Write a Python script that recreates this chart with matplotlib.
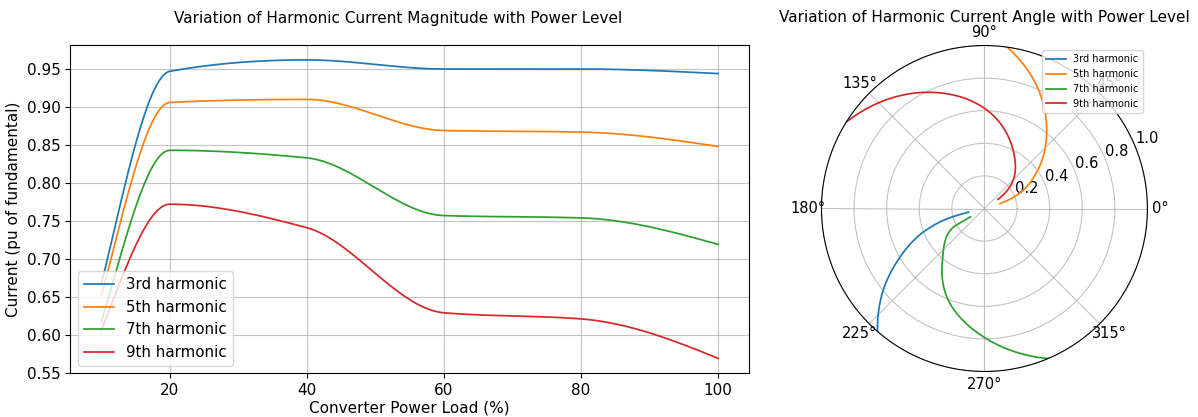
import numpy as np
import matplotlib
matplotlib.use("Agg")
import matplotlib.pyplot as plt

# ---- data ----
power = [10, 20, 40, 60, 80, 100]
labels = ["3rd harmonic", "5th harmonic", "7th harmonic", "9th harmonic"]

mag_3 = [0.666, 0.947, 0.962, 0.950, 0.950, 0.944]
mag_5 = [0.651, 0.906, 0.910, 0.869, 0.867, 0.848]
mag_7 = [0.617, 0.843, 0.833, 0.757, 0.754, 0.719]
mag_9 = [0.606, 0.772, 0.741, 0.629, 0.621, 0.569]

ang_3 = [193, 194.5, 201, 210, 219, 229]
ang_5 = [17.5, 21.5, 35.5, 50.5, 65.5, 82]
ang_7 = [211, 210.5, 230, 248, 271, 293]
ang_9 = [34, 40, 64, 88, 117, 148]

mags = [mag_3, mag_5, mag_7, mag_9]
angs = [ang_3, ang_5, ang_7, ang_9]
colors = ["#1f77b4", "#ff7f0e", "#2ca02c", "#d62728"]


def pchip(x, y, xn):
    """Monotone cubic (PCHIP) curve through the data points, for smooth drawing."""
    x = np.asarray(x, float)
    y = np.asarray(y, float)
    h = np.diff(x)
    dl = np.diff(y) / h
    n = len(x)
    d = np.zeros(n)
    for k in range(1, n - 1):
        if dl[k - 1] * dl[k] > 0:
            w1 = 2 * h[k] + h[k - 1]
            w2 = h[k] + 2 * h[k - 1]
            d[k] = (w1 + w2) / (w1 / dl[k - 1] + w2 / dl[k])

    def edge(h0, h1, m0, m1):
        v = ((2 * h0 + h1) * m0 - h0 * m1) / (h0 + h1)
        if np.sign(v) != np.sign(m0):
            v = 0.0
        elif np.sign(m0) != np.sign(m1) and abs(v) > abs(3 * m0):
            v = 3 * m0
        return v

    d[0] = edge(h[0], h[1], dl[0], dl[1])
    d[-1] = edge(h[-1], h[-2], dl[-1], dl[-2])
    xn = np.asarray(xn, float)
    idx = np.clip(np.searchsorted(x, xn) - 1, 0, n - 2)
    t = (xn - x[idx]) / h[idx]
    h00 = 2 * t**3 - 3 * t**2 + 1
    h10 = t**3 - 2 * t**2 + t
    h01 = -2 * t**3 + 3 * t**2
    h11 = t**3 - t**2
    return (h00 * y[idx] + h10 * h[idx] * d[idx]
            + h01 * y[idx + 1] + h11 * h[idx] * d[idx + 1])


GRID = dict(color="#b0b0b0", lw=0.8, alpha=0.75)

fig = plt.figure(figsize=(11.98, 4.17), dpi=100)

# ---- left: magnitude vs power ----
ax = fig.add_axes([0.0588, 0.1048, 0.5664, 0.7873])
xs = np.linspace(min(power), max(power), 300)
for m, c, lab in zip(mags, colors, labels):
    ax.plot(xs, pchip(power, m, xs), color=c, lw=1.25, label=lab)
ax.grid(True, **GRID)
ax.set_xticks([20, 40, 60, 80, 100])
ax.tick_params(labelsize=11)
ax.set_xlabel("Converter Power Load (%)", fontsize=11, labelpad=2)
ax.set_ylabel("Current (pu of fundamental)", fontsize=11)
ax.set_title("Variation of Harmonic Current Magnitude with Power Level",
             fontsize=11, pad=15.5, x=0.483)
ax.legend(loc="lower left", fontsize=10.8)

# ---- right: angle vs power (polar) ----
pax = fig.add_axes([0.6857, 0.1091, 0.2721, 0.7818], projection="polar")
for a, c, lab in zip(angs, colors, labels):
    th = np.deg2rad(pchip(power, a, xs))
    pax.plot(th, xs / 100.0, color=c, lw=1.25, label=lab)
pax.set_ylim(0, 1.0)
pax.set_yticks([0.2, 0.4, 0.6, 0.8, 1.0])
pax.tick_params(labelsize=10.5)
pax.tick_params(axis="x", pad=-1)
pax.grid(True, **GRID)
pax.set_title("Variation of Harmonic Current Angle with Power Level",
              fontsize=11, y=1.0, pad=17)
pax.legend(loc="upper right", fontsize=7)

fig.savefig("out.png", dpi=100)
